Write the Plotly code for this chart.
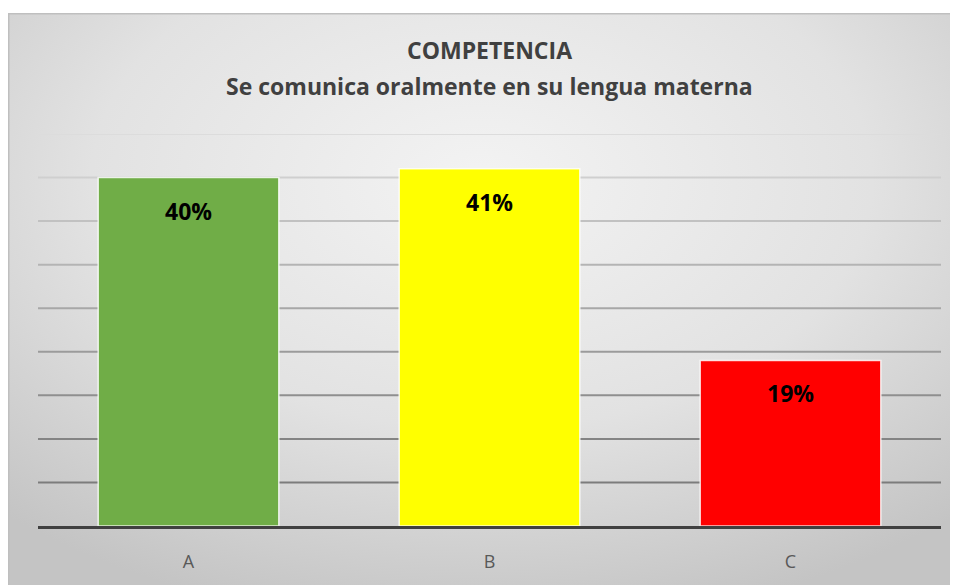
import base64
import plotly.graph_objects as go

categories = ["A", "B", "C"]
values = [0.40, 0.41, 0.19]
labels = ["40%", "41%", "19%"]
bar_colors = ["#70AD47", "#FFFF00", "#FF0000"]
grid_values = [0.05, 0.10, 0.15, 0.20, 0.25, 0.30, 0.35, 0.40, 0.45]
grid_colors = ["#7c7c7c", "#848484", "#8f8f8f", "#9b9b9b", "#a7a7a7",
               "#b4b4b4", "#c1c1c1", "#cfcfcf", "#dcdcdc"]
title_line1 = "COMPETENCIA"
title_line2 = "Se comunica oralmente en su lengua materna"

FONT = "Open Sans, Noto Sans, sans-serif"
# the page body adds an 8px offset, so the figure is drawn 8px smaller
W, H = 950, 577
ML, MR, MT, MB = 30, 17, 126, 59
PW, PH = W - ML - MR, H - MT - MB

def px_to_paper_x(px):
    return (px - ML) / PW

def px_to_paper_y(py):
    return (H - MB - py) / PH

BW, BH = 947, 600
svg = f'''<svg xmlns="http://www.w3.org/2000/svg" width="{BW}" height="{BH}" viewBox="0 0 {BW} {BH}" preserveAspectRatio="none">
<defs><radialGradient id="g" cx="50%" cy="28%" r="75%" fx="50%" fy="28%">
<stop offset="0" stop-color="#f3f3f3"/>
<stop offset="0.55" stop-color="#e2e2e2"/>
<stop offset="1" stop-color="#c4c4c4"/>
</radialGradient></defs>
<rect x="0" y="0" width="{BW}" height="{BH}" fill="url(#g)" stroke="#bfbfbf" stroke-width="3"/>
</svg>'''
src = "data:image/svg+xml;base64," + base64.b64encode(svg.encode()).decode()

fig = go.Figure()
fig.add_trace(go.Bar(
    x=categories, y=values,
    marker=dict(color=bar_colors, line=dict(color="rgba(255,255,255,0.8)", width=1.5)),
    width=0.6, hoverinfo="skip",
))

box_x0, box_y0 = 0, 5
fig.add_layout_image(dict(
    source=src, xref="paper", yref="paper",
    x=px_to_paper_x(box_x0), y=px_to_paper_y(box_y0),
    sizex=BW / PW, sizey=BH / PH,
    xanchor="left", yanchor="top", sizing="stretch", layer="below",
))

for v, c in zip(grid_values, grid_colors):
    fig.add_shape(type="line", xref="paper", yref="y", x0=0, x1=1, y0=v, y1=v,
                  line=dict(color=c, width=2), layer="below")

for cat, v, lab in zip(categories, values, labels):
    fig.add_annotation(x=cat, y=v, text=f"<b>{lab}</b>", showarrow=False,
                       yanchor="middle", yshift=-33,
                       font=dict(family=FONT, size=23, color="#000000"))

fig.add_annotation(xref="paper", yref="paper", x=0.5, y=px_to_paper_y(42),
                   text=f"<b>{title_line1}</b>", showarrow=False, yanchor="middle",
                   font=dict(family=FONT, size=23, color="#404040"))
fig.add_annotation(xref="paper", yref="paper", x=0.5, y=px_to_paper_y(78),
                   text=f"<b>{title_line2}</b>", showarrow=False, yanchor="middle",
                   font=dict(family=FONT, size=23, color="#404040"))

fig.update_layout(
    width=W, height=H,
    margin=dict(l=ML, r=MR, t=MT, b=MB),
    paper_bgcolor="white", plot_bgcolor="rgba(0,0,0,0)",
    showlegend=False, bargap=0.4,
    xaxis=dict(showline=True, linecolor="#404040", linewidth=3, showgrid=False,
               ticks="", ticklabelstandoff=17,
               tickfont=dict(family=FONT, size=18, color="#595959")),
    yaxis=dict(range=[0, 0.45], showgrid=False, zeroline=False, showticklabels=False),
)

fig.write_html("out.html")
